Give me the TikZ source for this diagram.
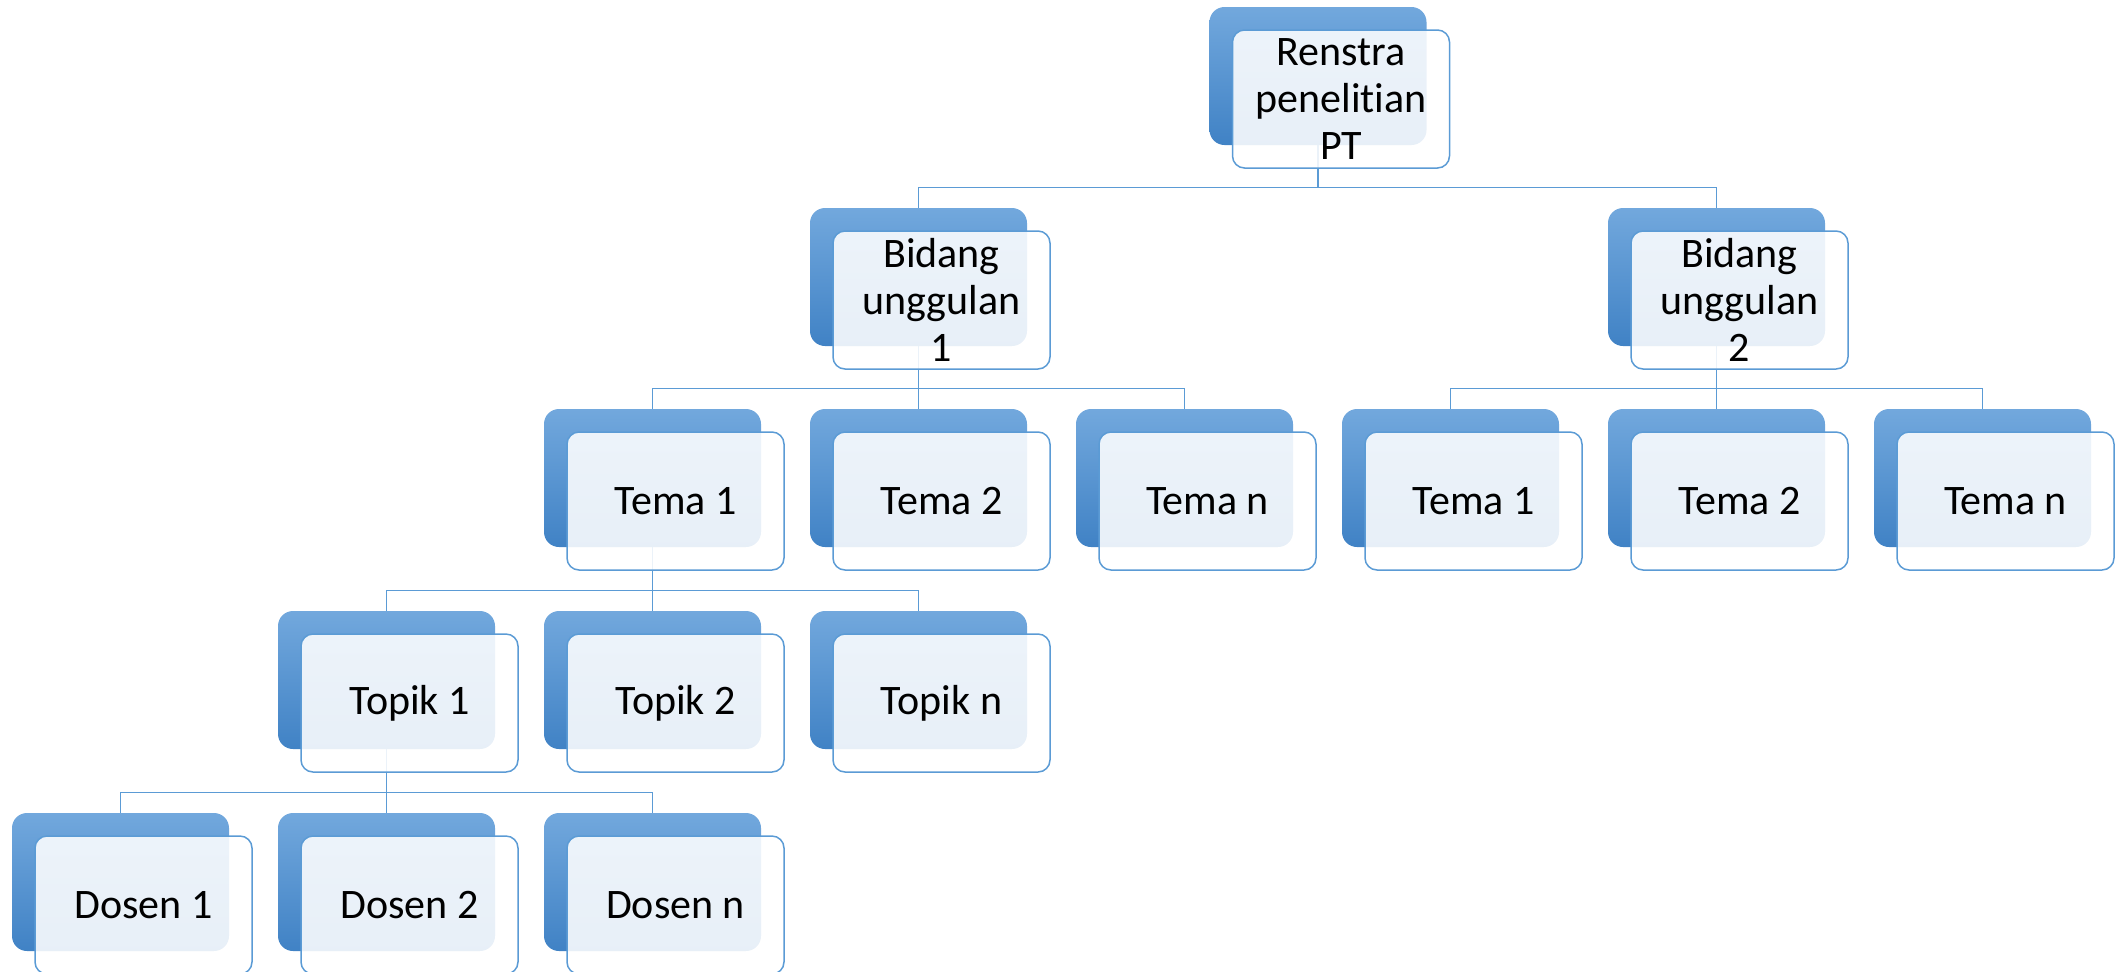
\documentclass[tikz,border=0pt]{standalone}
\usepackage{fontspec}
\setmainfont[Ligatures=NoCommon]{Carlito}
\usetikzlibrary{calc,backgrounds}
\definecolor{lineblue}{RGB}{91,155,213}
\definecolor{backtop}{RGB}{114,168,221}
\definecolor{backbot}{RGB}{64,130,197}
\begin{document}
\begin{tikzpicture}[x=0.5pt,y=-0.5pt]
	\tikzstyle{every node}+=[inner sep=0pt]
	\tikzstyle{backbox}=[rounded corners=7.5pt,minimum width=108.5pt,minimum height=69pt,top color=backtop,bottom color=backbot]
	\tikzstyle{frontbox}=[rounded corners=6pt,minimum width=108.5pt,minimum height=69pt,draw=lineblue,line width=0.75pt,fill=white,fill opacity=0.88,text opacity=1,align=center,font=\fontsize{21pt}{23.5pt}\selectfont]
	\tikzstyle{link}=[lineblue,line width=0.65pt]
	\useasboundingbox (0,0) rectangle (2116,971);
	% level 0
	\node[backbox] (renstra) at (1318,76) {};
	\node[frontbox] (renstra-t) at ($(renstra)+(23,23)$) {Renstra\\penelitian\\PT};
	% level 1
	\node[backbox] (bidang1) at (918.5,277) {};
	\node[frontbox] (bidang1-t) at ($(bidang1)+(23,23)$) {Bidang\\unggulan\\1};
	\node[backbox] (bidang2) at (1716.5,277) {};
	\node[frontbox] (bidang2-t) at ($(bidang2)+(23,23)$) {Bidang\\unggulan\\2};
	% level 2
	\node[backbox] (tema1a) at (652.5,478) {};
	\node[frontbox] (tema1a-t) at ($(tema1a)+(23,23)$) {Tema 1};
	\node[backbox] (tema2a) at (918.5,478) {};
	\node[frontbox] (tema2a-t) at ($(tema2a)+(23,23)$) {Tema 2};
	\node[backbox] (temana) at (1184.5,478) {};
	\node[frontbox] (temana-t) at ($(temana)+(23,23)$) {Tema n};
	\node[backbox] (tema1b) at (1450.5,478) {};
	\node[frontbox] (tema1b-t) at ($(tema1b)+(23,23)$) {Tema 1};
	\node[backbox] (tema2b) at (1716.5,478) {};
	\node[frontbox] (tema2b-t) at ($(tema2b)+(23,23)$) {Tema 2};
	\node[backbox] (temanb) at (1982.5,478) {};
	\node[frontbox] (temanb-t) at ($(temanb)+(23,23)$) {Tema n};
	% level 3
	\node[backbox] (topik1) at (386.5,680) {};
	\node[frontbox] (topik1-t) at ($(topik1)+(23,23)$) {Topik 1};
	\node[backbox] (topik2) at (652.5,680) {};
	\node[frontbox] (topik2-t) at ($(topik2)+(23,23)$) {Topik 2};
	\node[backbox] (topikn) at (918.5,680) {};
	\node[frontbox] (topikn-t) at ($(topikn)+(23,23)$) {Topik n};
	% level 4
	\node[backbox] (dosen1) at (120.5,882) {};
	\node[frontbox] (dosen1-t) at ($(dosen1)+(23,23)$) {Dosen 1};
	\node[backbox] (dosen2) at (386.5,882) {};
	\node[frontbox] (dosen2-t) at ($(dosen2)+(23,23)$) {Dosen 2};
	\node[backbox] (dosenn) at (652.5,882) {};
	\node[frontbox] (dosenn-t) at ($(dosenn)+(23,23)$) {Dosen n};
	% connectors
	\begin{pgfonlayer}{background}
		\draw[link] (renstra.south) |- ([yshift=10pt]bidang1.north) -- (bidang1.north);
		\draw[link] (renstra.south) |- ([yshift=10pt]bidang2.north) -- (bidang2.north);
		\draw[link] (bidang1.south) |- ([yshift=10pt]tema1a.north) -- (tema1a.north);
		\draw[link] (bidang1.south) -- (tema2a.north);
		\draw[link] (bidang1.south) |- ([yshift=10pt]temana.north) -- (temana.north);
		\draw[link] (bidang2.south) |- ([yshift=10pt]tema1b.north) -- (tema1b.north);
		\draw[link] (bidang2.south) -- (tema2b.north);
		\draw[link] (bidang2.south) |- ([yshift=10pt]temanb.north) -- (temanb.north);
		\draw[link] (tema1a.south) |- ([yshift=10pt]topik1.north) -- (topik1.north);
		\draw[link] (tema1a.south) -- (topik2.north);
		\draw[link] (tema1a.south) |- ([yshift=10pt]topikn.north) -- (topikn.north);
		\draw[link] (topik1.south) |- ([yshift=10pt]dosen1.north) -- (dosen1.north);
		\draw[link] (topik1.south) -- (dosen2.north);
		\draw[link] (topik1.south) |- ([yshift=10pt]dosenn.north) -- (dosenn.north);
	\end{pgfonlayer}
\end{tikzpicture}
\end{document}
